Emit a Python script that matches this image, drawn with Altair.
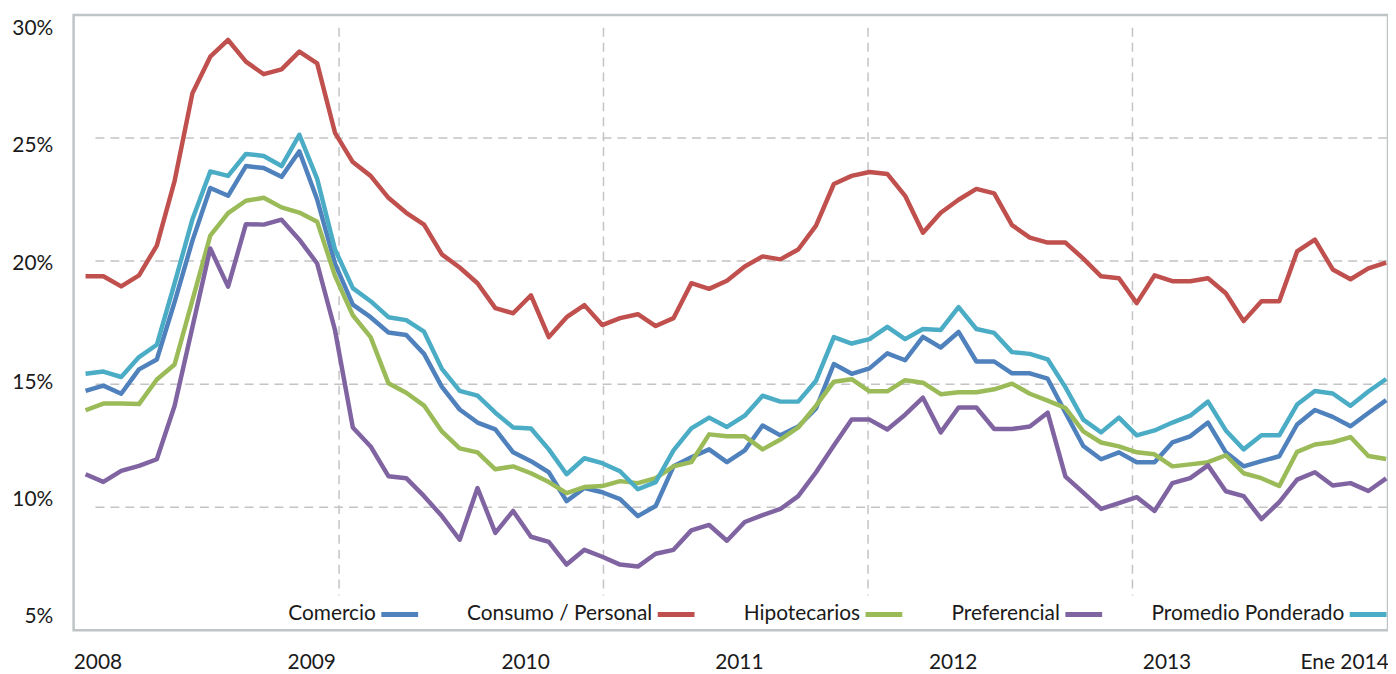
import altair as alt
import pandas as pd

# ---------------- data ----------------
series_names = ["Comercio", "Consumo / Personal", "Hipotecarios", "Preferencial", "Promedio Ponderado"]
months = list(range(74))  # monthly observations, Jan 2008 ... Feb 2014

comercio = [14.73, 14.94, 14.61, 15.60, 16.00, 18.34, 20.83, 22.97, 22.65, 23.86,
            23.78, 23.42, 24.46, 22.50, 19.90, 18.23, 17.72, 17.10, 17.00, 16.23,
            14.89, 13.97, 13.44, 13.16, 12.23, 11.87, 11.42, 10.25, 10.78, 10.61,
            10.33, 9.64, 10.05, 11.66, 12.03, 12.35, 11.83, 12.31, 13.32, 12.92,
            13.28, 14.01, 15.82, 15.42, 15.64, 16.25, 15.97, 16.92, 16.49, 17.12,
            15.92, 15.92, 15.44, 15.44, 15.22, 13.84, 12.49, 11.95, 12.23, 11.83,
            11.83, 12.63, 12.88, 13.44, 12.23, 11.66, 11.87, 12.07, 13.36, 13.95,
            13.67, 13.29, 13.83, 14.35]

consumo = [19.38, 19.38, 18.97, 19.42, 20.63, 23.26, 26.82, 28.30, 28.98, 28.10,
           27.59, 27.79, 28.51, 28.03, 25.21, 24.02, 23.46, 22.57, 21.96, 21.48,
           20.27, 19.74, 19.10, 18.09, 17.88, 18.61, 16.91, 17.72, 18.21, 17.40,
           17.68, 17.84, 17.36, 17.68, 19.10, 18.87, 19.20, 19.78, 20.19, 20.07,
           20.47, 21.44, 23.13, 23.46, 23.62, 23.54, 22.65, 21.15, 21.96, 22.49,
           22.93, 22.75, 21.46, 20.95, 20.75, 20.75, 20.10, 19.38, 19.30, 18.29,
           19.42, 19.18, 19.18, 19.30, 18.69, 17.56, 18.37, 18.37, 20.39, 20.87,
           19.66, 19.26, 19.70, 19.94]

hipotecarios = [13.94, 14.21, 14.21, 14.19, 15.19, 15.80, 18.41, 21.03, 21.95, 22.45,
                22.57, 22.18, 21.97, 21.60, 19.40, 17.80, 16.91, 15.04, 14.65, 14.13,
                13.08, 12.39, 12.23, 11.54, 11.66, 11.38, 11.02, 10.57, 10.82, 10.86,
                11.06, 10.98, 11.18, 11.66, 11.83, 12.96, 12.88, 12.88, 12.35, 12.75,
                13.24, 14.13, 15.10, 15.20, 14.71, 14.71, 15.16, 15.06, 14.59, 14.67,
                14.67, 14.79, 15.02, 14.61, 14.33, 14.03, 13.08, 12.63, 12.47, 12.23,
                12.15, 11.66, 11.74, 11.83, 12.11, 11.38, 11.18, 10.86, 12.25, 12.55,
                12.64, 12.85, 12.08, 11.96]

preferencial = [11.34, 11.03, 11.48, 11.68, 11.95, 14.12, 17.32, 20.51, 18.96, 21.50,
                21.48, 21.68, 20.87, 19.90, 17.20, 13.24, 12.47, 11.26, 11.18, 10.45,
                9.64, 8.68, 10.78, 8.96, 9.85, 8.80, 8.59, 7.67, 8.27, 7.99,
                7.67, 7.59, 8.11, 8.27, 9.06, 9.28, 8.64, 9.40, 9.68, 9.93,
                10.45, 11.42, 12.51, 13.56, 13.56, 13.16, 13.76, 14.45, 13.04, 14.05,
                14.05, 13.18, 13.18, 13.28, 13.84, 11.24, 10.59, 9.93, 10.17, 10.41,
                9.85, 10.98, 11.18, 11.70, 10.65, 10.45, 9.52, 10.21, 11.12, 11.42,
                10.88, 10.98, 10.66, 11.17]

promedio = [15.42, 15.51, 15.29, 16.10, 16.60, 19.10, 21.70, 23.64, 23.46, 24.35,
            24.27, 23.86, 25.13, 23.34, 20.47, 18.90, 18.37, 17.72, 17.60, 17.13,
            15.62, 14.73, 14.53, 13.84, 13.24, 13.20, 12.35, 11.34, 11.99, 11.79,
            11.46, 10.73, 11.02, 12.31, 13.20, 13.64, 13.26, 13.72, 14.53, 14.29,
            14.29, 15.14, 16.91, 16.65, 16.83, 17.33, 16.83, 17.24, 17.20, 18.13,
            17.24, 17.08, 16.30, 16.23, 16.01, 14.87, 13.56, 13.04, 13.64, 12.92,
            13.12, 13.44, 13.72, 14.29, 13.12, 12.35, 12.92, 12.92, 14.17, 14.72,
            14.62, 14.12, 14.70, 15.21]

y_ticks = [5, 10, 15, 20, 25, 30]
x_label_pos = [0, 12, 24, 36, 48, 60, 72]
x_label_text = ["2008", "2009", "2010", "2011", "2012", "2013", "Ene 2014"]
hgrid_values = [10, 15, 20, 25]
vgrid_positions = [14.23, 29.07, 43.92, 58.76]

# ---------------- styling ----------------
colors = ["#4F81BD", "#C0504D", "#9BBB59", "#8064A2", "#4BACC6"]
FONT = "Lato"
TXT = "#1a1a1a"
GRID = "#C4C4C4"
W, H = 1322, 619
STEP, FIRST = 17.92, 12.0

rows = []
for name, vals in zip(series_names, [comercio, consumo, hipotecarios, preferencial, promedio]):
    for m, v in zip(months, vals):
        rows.append({"serie": name, "mes": m, "tasa": v})
df = pd.DataFrame(rows)

xscale = alt.Scale(domain=[-FIRST / STEP, (W - FIRST) / STEP], nice=False, zero=False)
yscale = alt.Scale(domain=[5, 30], nice=False, zero=False)

label_expr = " : ".join(
    [f"datum.value == {p} ? '{t}'" for p, t in zip(x_label_pos, x_label_text)] + ["''"]
)
y_off = {14: 30, 8: 25, 2: 20, -2: 15, -8: 10, -14: 5}

xaxis = alt.Axis(
    values=x_label_pos, labelExpr=label_expr, grid=False, ticks=False, domain=False,
    labelPadding=32, labelBaseline="middle", labelOverlap=False, labelBound=False, labelFlush=False,
    labelAlign={"condition": {"test": "datum.value == 72", "value": "right"}, "value": "center"},
    labelOffset={"condition": {"test": "datum.value == 72", "value": 20}, "value": 12},
    title=None,
)
yaxis = alt.Axis(
    values=y_ticks, labelExpr="datum.value + '%'", grid=False, ticks=False, domain=False,
    labelPadding=21, labelOverlap=False, labelBound=False, labelFlush=False,
    labelOffset={"condition": [{"test": f"datum.value == {v}", "value": o} for o, v in y_off.items()],
                 "value": 0},
    title=None,
)

hgrid = alt.Chart(pd.DataFrame({"v": hgrid_values})).mark_rule(
    color=GRID, strokeWidth=1.5, strokeDash=[9, 6]
).encode(
    y=alt.Y("v:Q", scale=yscale, axis=yaxis),
    x=alt.value(22), x2=alt.value(W),
)

vgrid = alt.Chart(pd.DataFrame({"p": vgrid_positions})).mark_rule(
    color=GRID, strokeWidth=1.5, strokeDash=[9, 6]
).encode(
    x=alt.X("p:Q", scale=xscale, axis=xaxis),
    y=alt.value(13), y2=alt.value(584),
)

lines = alt.Chart(df).mark_line(strokeWidth=4.5, strokeJoin="round").encode(
    x=alt.X("mes:Q", scale=xscale, axis=xaxis),
    y=alt.Y("tasa:Q", scale=yscale, axis=yaxis),
    color=alt.Color(
        "serie:N",
        scale=alt.Scale(domain=series_names, range=colors),
        legend=alt.Legend(
            title=None, orient="none", legendX=307, legendY=582, direction="horizontal",
            symbolType="stroke", symbolSize=1369, symbolStrokeWidth=5,
            labelFont=FONT, labelFontSize=21, labelColor=TXT,
            labelAlign="right", labelOffset={"expr": "-45"}, columnPadding=38, labelLimit=0,
        ),
    ),
)

chart = alt.layer(hgrid, vgrid, lines).properties(
    width=W, height=H,
    padding={"left": 66, "top": 5, "right": 0, "bottom": 40},
    autosize=alt.AutoSizeParams(type="none"),
).configure_view(
    stroke="#BFC4C6", strokeWidth=2.5
).configure_axis(
    labelFont=FONT, labelFontSize=21, labelColor=TXT
)

chart.save("out.html", embed_options={"renderer": "svg", "actions": False})
